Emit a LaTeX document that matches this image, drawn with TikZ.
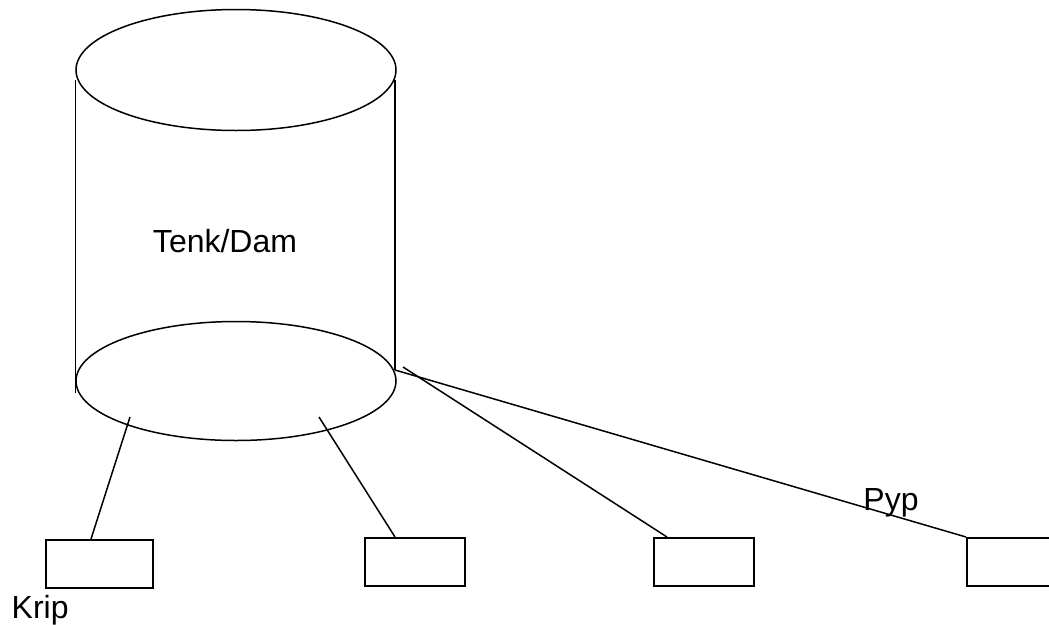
\documentclass[tikz,border=0pt]{standalone}
\usepackage{fontspec}
\setmainfont{Liberation Sans}
\usetikzlibrary{shapes.geometric}
\begin{document}
\begin{tikzpicture}[x=1pt,y=-1pt,line width=1.5pt,
  tankend/.style={draw,ellipse,minimum width=320pt,minimum height=121pt,inner sep=0pt},
  valve/.style={draw,rectangle,minimum height=48pt,inner sep=0pt,anchor=north west},
  lbl/.style={font=\fontsize{32}{32}\selectfont,inner sep=0pt}]
\useasboundingbox (0,0) rectangle (1049,624);
\clip (0,0) rectangle (1049,624);
% tank
\node[tankend] (top) at (236,70) {};
\node[tankend,minimum height=119pt] (bot) at (236,381) {};
\coordinate (lt) at (75.5,80);
\coordinate (lb) at (75.5,393);
\coordinate (rt) at (395,80);
\coordinate (rb) at (395,370);
\draw (lt) -- (lb);
\draw (rt) -- (rb);
\node[lbl,anchor=base] (tank) at (225,252) {Tenk/Dam};
% outlets
\node[valve,minimum width=107pt] (v1) at (45,539) {};
\node[valve,minimum width=100pt] (v2) at (364,537) {};
\node[valve,minimum width=100pt] (v3) at (653,537) {};
\node[valve,minimum width=100pt] (v4) at (966,537) {};
\coordinate (o1) at (130,417);
\coordinate (o2) at (319,417);
\coordinate (o3) at (403,367);
\coordinate (e1) at (91,539);
\coordinate (e2) at (395,537);
\coordinate (e3) at (667,537);
\draw (o1) -- (e1);
\draw (o2) -- (e2);
\draw (o3) -- (e3);
\draw (rb) -- (v4.north west);
% labels
\node[lbl,anchor=base west] (krip) at (11,618) {Krip};
\node[lbl,anchor=base] (pyp) at (891,510) {Pyp};
\end{tikzpicture}
\end{document}
